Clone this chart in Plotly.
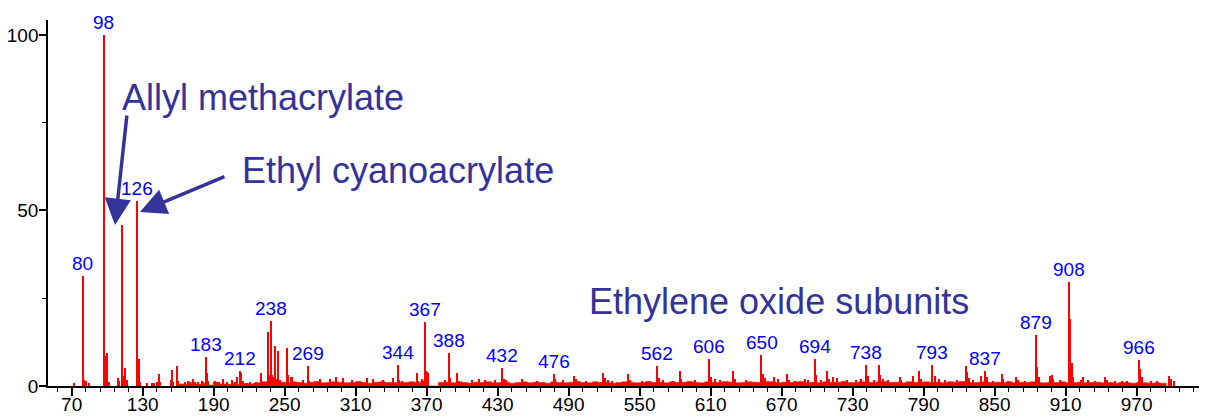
import plotly.graph_objects as go

# ---- data (apparent m/z on the axis, relative intensity %) ----
peak_mz = [72, 79.3, 80.4, 82.1, 84.9,
           97.0, 98.2, 100.1, 101.3,
           109.4, 110.4, 112.3, 113.4, 115.5, 116.6,
           125.5, 126.6, 127.7,
           133.4, 137.6, 139.6, 141.9, 143.8, 144.9,
           153.7, 154.8, 155.9, 159.2, 160.3,
           166, 168, 170, 172.3, 174, 177,
           179.9, 181, 183.2, 184.3, 185.5,
           190, 191.5, 193, 195, 198.2, 201,
           205.2, 208, 209.8, 212.3, 213.4, 214.5,
           218, 221, 224, 226, 230, 231.1,
           236, 237.1, 238.5, 239.6, 240.6, 241.8, 243, 244.7, 245.8,
           251.7, 252.8, 255.4, 256.5,
           265.2, 269.4, 270.5,
           279.9, 288.3, 293.4, 299.6, 307, 319.3, 325, 333, 341.8, 345.5, 346.8, 348.9,
           361.6, 363, 366, 368.6, 369.6, 370.6, 371.6,
           385.5, 389, 390.1, 395.4, 396.5, 408, 414, 419, 428, 434, 435.4, 437, 450.3,
           463, 477.4, 478.6, 485, 494.5, 496, 505, 519.3, 520.7, 523, 527, 540.4, 541.6,
           552, 565, 566.2, 570, 578, 584.1, 585.2, 597, 608.6, 610.2, 614, 618, 629.1,
           630.3, 640, 653, 654.2, 656, 663.5, 667, 674.3, 676, 681, 689.7, 692, 698,
           699.2, 703, 708.6, 710, 713.6, 717, 725, 733, 737, 741.5, 742.8, 748, 752.3,
           753.5, 756, 760, 769.7, 771, 780.7, 786.3, 787.5, 797, 799.4, 803, 808, 818,
           825.5, 826.9, 828.5, 832, 838.6, 842, 843.5, 849, 856, 857.5, 861, 867.8, 870,
           876, 884.7, 885.9, 887.2, 896.8, 898.2, 899.5, 905, 913, 914.2, 915.4, 916.6,
           923, 925, 929, 935, 943.3, 945, 952, 958, 962, 972, 973.2, 974.4, 982, 987,
           997.6, 999, 1002]
peak_int = [0.8, 31.3, 1.7, 1.3, 0.8,
            100, 8.5, 9.3, 1.0,
            2.2, 1.5, 45.9, 2.8, 5.0, 1.7,
            52.7, 7.8, 1.0,
            0.8, 0.8, 0.9, 1.2, 3.4, 1.2,
            1.7, 4.6, 1.2, 5.7, 1.5,
            1.2, 1.4, 1.0, 1.9, 1.2, 1.0,
            1.5, 1.0, 8.2, 3.8, 1.3,
            1.0, 1.5, 1.2, 1.0, 1.9, 1.0,
            1.6, 1.2, 2.6, 4.3, 3.8, 1.5,
            0.9, 1.0, 0.9, 1.0, 3.8, 1.2,
            15.3, 3.0, 18.5, 3.2, 2.5, 11.5, 2.0, 10.1, 1.8,
            10.7, 3.2, 2.7, 2.6,
            1.8, 5.7, 1.5,
            2.0, 1.9, 2.7, 2.2, 1.8, 2.2, 2.0, 1.7, 2.2, 6.0, 1.6, 1.4,
            3.8, 1.5, 2.0, 18.1, 4.3, 4.0, 3.6,
            1.8, 9.3, 2.3, 3.8, 1.5, 1.8, 2.0, 1.8, 1.8, 5.2, 2.1, 1.6, 2.1,
            1.5, 3.4, 2.0, 1.6, 2.8, 2.0, 1.5, 3.6, 2.3, 1.8, 1.5, 3.5, 1.8,
            1.4, 5.7, 2.3, 1.6, 1.5, 4.2, 2.0, 1.6, 7.8, 2.6, 2.0, 1.8, 4.2,
            2.0, 1.6, 8.9, 3.5, 2.2, 2.5, 1.9, 3.5, 1.8, 1.5, 2.0, 1.8, 7.8,
            3.0, 1.8, 4.3, 2.0, 2.5, 2.2, 1.6, 1.8, 1.9, 6.0, 2.8, 1.8, 6.0,
            3.0, 1.9, 1.7, 2.7, 1.8, 2.9, 4.4, 2.0, 6.0, 2.9, 1.9, 1.6, 1.8,
            5.6, 4.1, 2.2, 1.6, 2.8, 4.4, 2.6, 1.5, 3.4, 2.0, 1.4, 2.5, 1.6,
            1.3, 14.5, 5.3, 2.5, 2.8, 3.2, 2.0, 1.6, 29.5, 19.0, 6.5, 2.5,
            1.8, 2.6, 1.6, 1.5, 2.5, 1.8, 1.3, 1.5, 1.3, 7.4, 4.8, 2.5, 1.4, 1.5,
            2.9, 2.0, 1.3]

# continuous low-level background, every 5 m/z from 160
baseline_start, baseline_step = 160, 5
baseline_int = [0.6, 0.4, 0.8, 0.5, 0.7, 0.3, 0.9, 0.6, 0.5, 0.8, 0.4, 0.7, 0.6, 0.9,
                1.2, 1.0, 1.4, 1.1, 0.9, 1.2, 1.0, 0.8, 1.1, 1.3, 0.9, 1.0, 1.2, 1.1,
                0.9, 1.0, 1.3, 1.0, 0.8, 1.1, 1.2, 1.0, 0.9, 1.1, 1.0, 1.2, 0.9, 1.4,
                0.0, 0.0, 1.0, 1.1, 0.9, 1.2, 1.0, 0.8, 1.1, 1.0, 1.2, 0.9, 1.0, 1.1,
                0.8, 1.0, 1.2, 0.9, 1.1, 1.0, 0.8, 1.2, 1.0, 0.9, 1.1, 1.3, 1.0, 0.9,
                1.2, 1.0, 1.1, 0.8, 1.0, 1.2, 1.1, 0.9, 1.0, 1.3, 1.0, 1.1, 0.9, 1.2,
                1.0, 1.1, 1.3, 1.0, 0.9, 1.2, 1.1, 1.0, 1.3, 1.1, 0.9, 1.0, 1.2, 1.1,
                1.0, 1.3, 1.2, 0.9, 1.1, 1.0, 1.2, 1.3, 1.0, 1.1, 0.9, 1.2, 1.0, 1.1,
                1.3, 1.0, 0.9, 1.2, 1.1, 1.0, 1.2, 1.3, 1.0, 1.1, 0.9, 1.2, 1.0, 1.1,
                1.2, 1.0, 1.1, 0.9, 1.2, 1.1, 1.3, 1.0, 0.9, 1.1, 1.2, 1.0, 1.1, 1.0,
                1.2, 0.9, 1.1, 1.0, 1.2, 1.0, 0.9, 1.1, 1.0, 1.2, 0.9, 1.0, 1.1, 0.9,
                1.0, 1.1, 0.9, 1.0, 0.8, 1.0, 0.9, 0.8, 1.0, 0.9, 0.8, 0.9, 0.8, 0.0]
baseline_mz = [baseline_start + i * baseline_step for i in range(len(baseline_int))]

label_text = ["80", "98", "126", "183", "212", "238", "269", "344", "367", "388", "432",
              "476", "562", "606", "650", "694", "738", "793", "837", "879", "908", "966"]
label_mz = [79.3, 97.0, 125.5, 183.2, 212.3, 238.5, 269.4, 345.5, 368.6, 389, 434,
            477.4, 565, 608.6, 653, 698, 741.5, 797, 842, 884.7, 913, 972]

x_tickvals = list(range(70, 971, 60))
y_tickvals = [0, 50, 100]

RED = "#FF0000"
NAVY = "#333399"
FONT = "Liberation Sans, Arial, sans-serif"

fig = go.Figure()
fig.add_trace(go.Scatter(x=baseline_mz, y=baseline_int, mode="lines", line_shape="hv",
                         fill="tozeroy", fillcolor=RED, line=dict(color=RED, width=0.5),
                         hoverinfo="skip", showlegend=False))
fig.add_trace(go.Bar(x=peak_mz, y=peak_int, width=1.0, marker=dict(color=RED, line=dict(width=0)),
                     showlegend=False))

lookup = dict(zip(peak_mz, peak_int))
annotations = []
for t, m in zip(label_text, label_mz):
    annotations.append(dict(x=m, y=lookup[m], text=t, showarrow=False, xanchor="center",
                            yanchor="bottom", yshift=0,
                            font=dict(family=FONT, size=19, color="#0000FF")))

big = dict(family=FONT, size=36, color=NAVY)
annotations += [
    dict(x=110.8, y=82.1, text="Allyl methacrylate", showarrow=False, xanchor="left",
         yanchor="middle", font=big),
    dict(x=212.3, y=61.5, text="Ethyl cyanoacrylate", showarrow=False, xanchor="left",
         yanchor="middle", font=big),
    dict(x=505.5, y=24.0, text="Ethylene oxide subunits", showarrow=False, xanchor="left",
         yanchor="middle", font=big),
    dict(x=106.6, y=45.9, ax=116.8, ay=77.5, axref="x", ayref="y", text="", showarrow=True,
         arrowhead=2, arrowsize=1.5, arrowwidth=3.5, arrowcolor=NAVY, standoff=0),
    dict(x=127.7, y=49.6, ax=200.4, ay=59.8, axref="x", ayref="y", text="", showarrow=True,
         arrowhead=2, arrowsize=1.5, arrowwidth=3.5, arrowcolor=NAVY, standoff=0),
]

# the page body adds an 8px offset; size the figure so the plot lands where the reference has it
fig.update_layout(
    width=1199, height=409,
    margin=dict(l=40, r=2, t=12, b=31),
    paper_bgcolor="white", plot_bgcolor="white",
    barmode="overlay", bargap=0,
    font=dict(family=FONT, size=18, color="black"),
    annotations=annotations,
    xaxis=dict(range=[50, 1027.8], automargin=False, showgrid=False, zeroline=False,
               showline=True, linecolor="black", linewidth=1.5, ticks="outside", ticklen=8,
               tickwidth=1.5, tickcolor="black", tickvals=x_tickvals, ticklabelstandoff=-8,
               minor=dict(tick0=70, dtick=12, ticks="outside", ticklen=4, tickwidth=1,
                          tickcolor="black"),
               tickfont=dict(family=FONT, size=19, color="black")),
    yaxis=dict(range=[0, 104.27], automargin=False, showgrid=False, zeroline=False,
               showline=True, linecolor="black", linewidth=1.5, ticks="outside", ticklen=7,
               tickwidth=1.5, tickcolor="black", tickvals=y_tickvals, ticklabelstandoff=-3,
               minor=dict(tick0=0, dtick=25, ticks="outside", ticklen=4, tickwidth=1,
                          tickcolor="black"),
               tickfont=dict(family=FONT, size=19, color="black")),
)

fig.write_html("out.html")
